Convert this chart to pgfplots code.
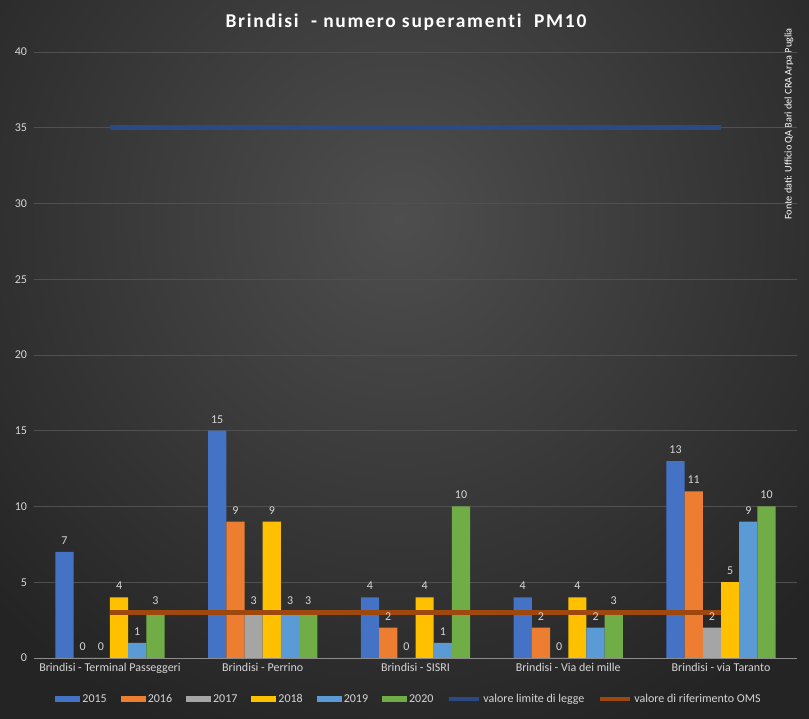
\documentclass[border=0pt]{standalone}
\usepackage{fontspec}
\setmainfont{Carlito}
\usepackage{pgfplots}
\pgfplotsset{compat=1.18}
\definecolor{bgdark}{HTML}{242424}
\definecolor{bglight}{HTML}{4E4E4E}
\definecolor{gridc}{HTML}{505050}
\definecolor{axc}{HTML}{8C8C8C}
\definecolor{labc}{HTML}{D6D6D6}
\definecolor{c15}{HTML}{4472C4}
\definecolor{c16}{HTML}{ED7D31}
\definecolor{c17}{HTML}{A5A5A5}
\definecolor{c18}{HTML}{FFC000}
\definecolor{c19}{HTML}{5B9BD5}
\definecolor{c20}{HTML}{70AD47}
\definecolor{climit}{HTML}{2A4A85}
\definecolor{coms}{HTML}{9E480E}
\pgfplotsset{
  /pgf/number format/assume math mode=true,
  barst/.style 2 args={ybar, bar width=18.2pt, bar shift=#2, draw=none, fill=#1,
    nodes near coords,
    every node near coord/.append style={color=labc, font=\fontsize{12}{14}\selectfont, yshift=4pt, xshift=#2},
    legend image code/.code={\fill[fill=#1] (0pt,-3pt) rectangle (25pt,3pt);}},
}
\begin{document}
\begin{tikzpicture}[x=1pt,y=1pt]
\clip (0,0) rectangle (809,719);
\fill[bgdark] (0,0) rectangle (809,719);
\shade[inner color=bglight, outer color=bgdark] (400,500) circle (560);
\node[text=white, font=\fontsize{19.5}{21}\selectfont\bfseries\addfontfeature{LetterSpace=9,Ligatures=NoCommon}] at (406,697) {Brindisi\ \ - numero superamenti\ \ PM10};
\node[rotate=90, text=white, font=\fontsize{10.2}{12}\selectfont] at (789,595) {Fonte dati: Ufficio QA Bari del CRA Arpa Puglia};
\begin{axis}[
  at={(33.6pt,61pt)}, anchor=south west, scale only axis,
  width=763.8pt, height=606pt,
  xmin=-0.5, xmax=4.5, ymin=0, ymax=40,
  ytick={0,5,...,40},
  xtick={0,1,2,3,4},
  xticklabels={Brindisi - Terminal Passeggeri, Brindisi - Perrino, Brindisi - SISRI, Brindisi - Via dei mille, Brindisi - via Taranto},
  axis x line*=bottom, axis y line*=left,
  x axis line style={draw=axc, line width=0.8pt, -},
  y axis line style={draw=none},
  tick style={draw=none},
  ymajorgrids, grid style={draw=gridc, line width=0.8pt},
  ticklabel style={color=labc, font=\fontsize{12}{14}\selectfont},
  yticklabel style={xshift=-3pt},
  xticklabel style={yshift=-2pt},
  clip=false,
  legend columns=8,
  legend style={at={(0.4915,-0.0677)}, anchor=center, draw=none, fill=none,
    text=labc, font=\fontsize{12}{14}\selectfont,
    /tikz/every even column/.append style={column sep=12pt}},
]
\addplot[barst={c15}{-45.5pt}] coordinates {(0,7) (1,15) (2,4) (3,4) (4,13)};
\addplot[barst={c16}{-27.3pt}] coordinates {(0,0) (1,9) (2,2) (3,2) (4,11)};
\addplot[barst={c17}{-9.1pt}] coordinates {(0,0) (1,3) (2,0) (3,0) (4,2)};
\addplot[barst={c18}{9.1pt}] coordinates {(0,4) (1,9) (2,4) (3,4) (4,5)};
\addplot[barst={c19}{27.3pt}] coordinates {(0,1) (1,3) (2,1) (3,2) (4,9)};
\addplot[barst={c20}{45.5pt}] coordinates {(0,3) (1,3) (2,10) (3,3) (4,10)};
\addplot[sharp plot, color=climit, line width=5pt,
  legend image code/.code={\draw[color=climit, line width=4pt] (0pt,0pt) -- (30pt,0pt);}]
  coordinates {(0,35) (4,35)};
\addplot[sharp plot, color=coms, line width=5pt,
  legend image code/.code={\draw[color=coms, line width=4pt] (0pt,0pt) -- (30pt,0pt);}]
  coordinates {(0,3) (4,3)};
\legend{2015,2016,2017,2018,2019,2020,valore limite di legge,valore di riferimento OMS}
\end{axis}
\end{tikzpicture}
\end{document}
